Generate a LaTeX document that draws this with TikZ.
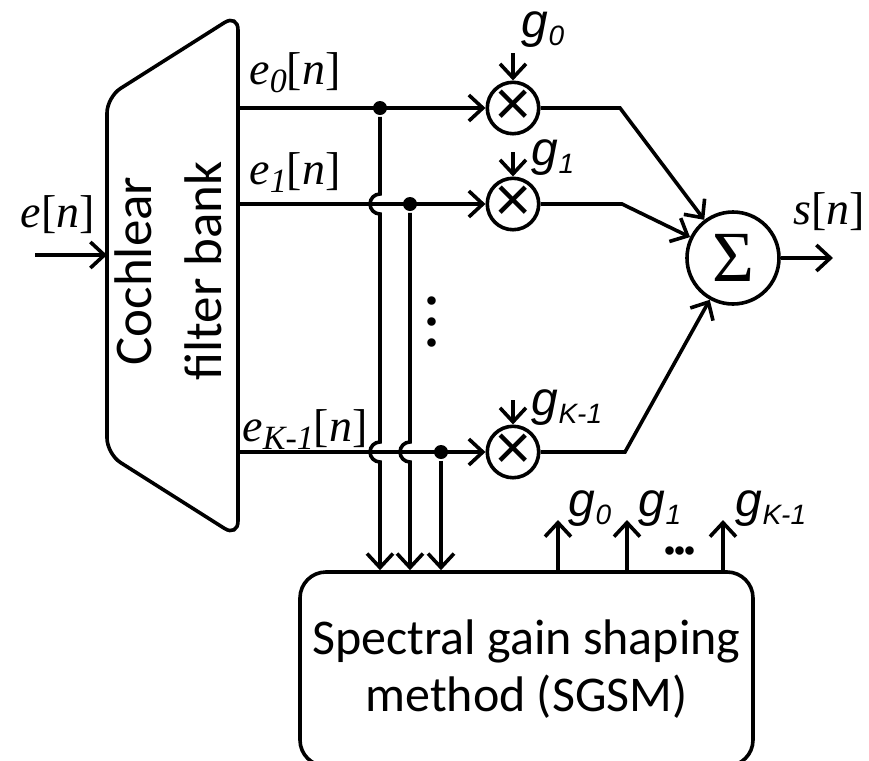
\documentclass[tikz,border=0pt]{standalone}
\usepackage{fontspec}
\setmainfont{Carlito}
\newfontfamily\timesfont{Liberation Serif}
\newfontfamily\arialfont{Liberation Sans}
\usetikzlibrary{arrows.meta}
\newcommand{\esig}[1]{{\timesfont\itshape e\raisebox{-4pt}{\fontsize{17}{17}\selectfont #1}\upshape[\itshape n\upshape]}}
\newcommand{\gsig}[1]{{\arialfont\itshape g\raisebox{-4pt}{\fontsize{14}{14}\selectfont #1}}}

\begin{document}
\begin{tikzpicture}[x=0.5pt, y=-0.5pt, line width=1.8pt,
    >={Straight Barb[length=7pt, width=13pt]},
    mult/.style={draw, circle, minimum size=25pt, inner sep=0pt,
        font=\arialfont\fontsize{32}{32}\selectfont},
    adder/.style={draw, circle, minimum size=46pt, inner sep=0pt,
        font=\timesfont\fontsize{36}{36}\selectfont},
    dot/.style={circle, fill, inner sep=0pt, minimum size=7pt},
    sig/.style={font=\timesfont\fontsize{23}{23}\selectfont, inner sep=0pt},
    gain/.style={font=\fontsize{24}{24}\selectfont, inner sep=0pt}
]
    \useasboundingbox (0,0) rectangle (869,761);

    \draw[rounded corners=8pt] (107,97) -- (238,14) -- (238,537) -- (107,454) -- cycle;
    \node[rotate=90, align=center, font=\fontsize{26.5}{35}\selectfont] (fb) at (168,271) {Cochlear\\filter bank};

    \coordinate (in) at (35,255);
    \coordinate (fbin) at (107,255);
    \draw[->] (in) -- (fbin);
    \node[sig] (lin) at (58,215) {{\itshape e\upshape[\itshape n\upshape]}};

    \coordinate (o0) at (238,108);
    \coordinate (o1) at (238,204);
    \coordinate (ok) at (238,452);
    \node[mult] (m0) at (513,108) {×};
    \node[mult] (m1) at (513,204) {×};
    \node[mult] (mk) at (513,452) {×};
    \node[dot] (d0) at (380,108) {};
    \node[dot] (d1) at (410,204) {};
    \node[dot] (dk) at (441,452) {};
    \draw[->] (o0) -- (m0);
    \draw[->] (o1) -- (m1);
    \draw[->] (ok) -- (mk);
    \node[sig] (le0) at (295,73) {\esig{0}};
    \node[sig] (le1) at (295,173) {\esig{1}};
    \node[sig] (lek) at (305,430) {\esig{K-1}};
    \node[font=\timesfont\bfseries\fontsize{26}{10.5}\selectfont, align=center, inner sep=0pt] (vdots) at (432,322) {.\\.\\.};

    \node[draw, rounded corners=13pt, minimum width=226.5pt, minimum height=97pt, align=center,
        font=\fontsize{25}{28.5}\selectfont] (sgsm) at (526.5,669) {Spectral gain shaping\\method (SGSM)};

    \draw[->] (d0) -- (380,194) arc[start angle=90, end angle=270, radius=5pt]
        -- (380,442) arc[start angle=90, end angle=270, radius=5pt] -- (d0 |- sgsm.north);
    \draw[->] (d1) -- (410,442) arc[start angle=90, end angle=270, radius=5pt] -- (d1 |- sgsm.north);
    \draw[->] (dk) -- (dk |- sgsm.north);

    \coordinate (gi0) at (513,53);
    \coordinate (gi1) at (513,152);
    \coordinate (gik) at (513,400);
    \draw[->] (gi0) -- (m0);
    \draw[->] (gi1) -- (m1);
    \draw[->] (gik) -- (mk);
    \node[gain] (lg0) at (543,30) {\gsig{0}};
    \node[gain] (lg1) at (553,158) {\gsig{1}};
    \node[gain] (lgk) at (567,408) {\gsig{K-1}};

    \node[adder] (sum) at (733,258) {Σ};
    \draw[->] (m0) -- (620,108) -- (sum);
    \draw[->] (m1) -- (622,204) -- (sum);
    \draw[->] (mk) -- (625,452) -- (sum);
    \coordinate (out) at (833,258);
    \draw[->] (sum) -- (out);
    \node[sig] (ls) at (829,212) {{\itshape s\upshape[\itshape n\upshape]}};

    \coordinate (go0) at (558,520);
    \coordinate (go1) at (627,520);
    \coordinate (gok) at (723,520);
    \draw[->] (sgsm.north -| go0) -- (go0);
    \draw[->] (sgsm.north -| go1) -- (go1);
    \draw[->] (sgsm.north -| gok) -- (gok);
    \node[gain] (lgo0) at (590,509) {\gsig{0}};
    \node[gain] (lgo1) at (660,509) {\gsig{1}};
    \node[gain] (lgok) at (771,509) {\gsig{K-1}};
    \node[font=\timesfont\bfseries\fontsize{26}{26}\selectfont, inner sep=0pt] (hdots) at (680,551) {.\kern-1.5pt.\kern-1.5pt.};
\end{tikzpicture}
\end{document}
